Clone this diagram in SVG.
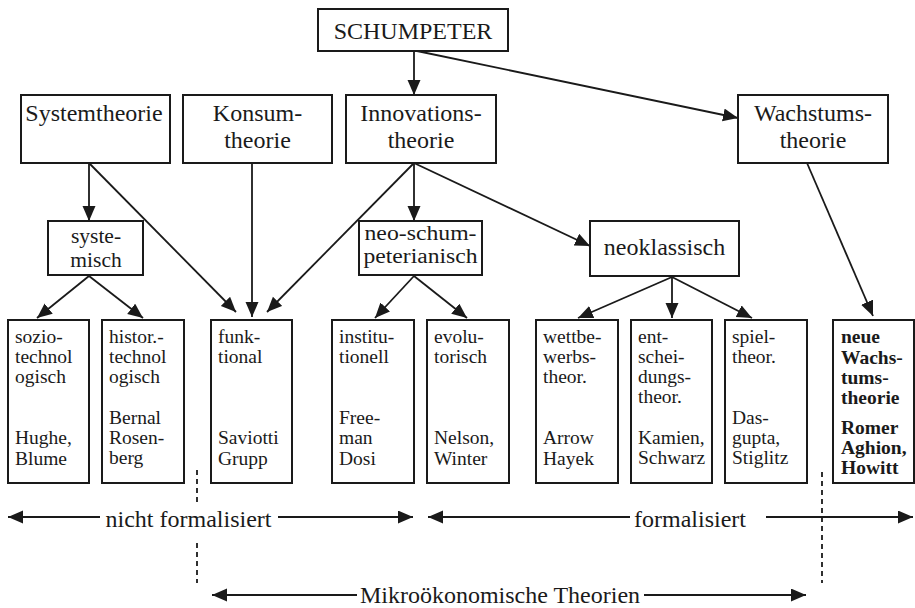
<svg xmlns="http://www.w3.org/2000/svg" width="915" height="608" viewBox="0 0 915 608">
<style>
.box{fill:#fff;stroke:#1a1a1a;stroke-width:2}
.t{font-family:"Liberation Serif","Times New Roman",serif;font-size:24px;fill:#1a1a1a;text-anchor:middle}
.m{font-size:21.5px}
.n{font-size:20.5px}
.s{font-family:"Liberation Serif","Times New Roman",serif;font-size:19.5px;fill:#1a1a1a}
.b{font-weight:bold}
.ln{stroke:#1a1a1a;stroke-width:1.8;fill:none}
.ar{marker-end:url(#ah)}
.dash{stroke:#1a1a1a;stroke-width:1.8;stroke-dasharray:5,4}
</style>
<defs>
<marker id="ah" markerUnits="userSpaceOnUse" markerWidth="16" markerHeight="14" refX="15" refY="6.5" orient="auto">
<path d="M0,0 L15,6.5 L0,13 z" fill="#1a1a1a"/>
</marker>
</defs>
<rect width="915" height="608" fill="#fff"/>
<g id="connectors">
<line class="ln ar" x1="414" y1="51" x2="414" y2="95"/>
<line class="ln ar" x1="417" y1="51" x2="738" y2="118"/>
<line class="ln ar" x1="89" y1="163" x2="89" y2="221"/>
<line class="ln ar" x1="89" y1="163" x2="236" y2="312"/>
<line class="ln ar" x1="252" y1="163" x2="252" y2="317"/>
<line class="ln ar" x1="414" y1="163" x2="267" y2="312"/>
<line class="ln ar" x1="414" y1="163" x2="414" y2="221"/>
<line class="ln ar" x1="414" y1="163" x2="590" y2="246"/>
<line class="ln ar" x1="807" y1="163" x2="873" y2="316"/>
<line class="ln ar" x1="89" y1="276" x2="37" y2="318"/>
<line class="ln ar" x1="89" y1="276" x2="143" y2="318"/>
<line class="ln ar" x1="414" y1="276" x2="375" y2="318"/>
<line class="ln ar" x1="414" y1="276" x2="467" y2="318"/>
<line class="ln ar" x1="672" y1="277" x2="578" y2="318"/>
<line class="ln ar" x1="672" y1="277" x2="672" y2="318"/>
<line class="ln ar" x1="672" y1="277" x2="752" y2="318"/>
</g>
<g id="schumpeter"><rect class="box" x="318" y="9" width="190" height="42"/><text class="t" x="413" y="39">SCHUMPETER</text></g>
<g id="systemtheorie"><rect class="box" x="21" y="95" width="149" height="68"/><text class="t" x="94" y="121">Systemtheorie</text></g>
<g id="konsumtheorie"><rect class="box" x="183" y="95" width="149" height="68"/><text class="t" x="257.5" y="121">Konsum-</text><text class="t" x="257.5" y="148">theorie</text></g>
<g id="innovationstheorie"><rect class="box" x="346" y="95" width="150" height="68"/><text class="t" x="421" y="121">Innovations-</text><text class="t" x="421" y="148">theorie</text></g>
<g id="wachstumstheorie"><rect class="box" x="738" y="95" width="150" height="68"/><text class="t" x="813" y="121">Wachstums-</text><text class="t" x="813" y="148">theorie</text></g>
<g id="systemisch"><rect class="box" x="48" y="221" width="95" height="54"/><text class="t m" x="96" y="243">syste-</text><text class="t m" x="96" y="267">misch</text></g>
<g id="neoschumpeterianisch"><rect class="box" x="359" y="221" width="123" height="54"/><text class="t n" x="420.5" y="240" textLength="112" lengthAdjust="spacingAndGlyphs">neo-schum-</text><text class="t n" x="420.5" y="263" textLength="114" lengthAdjust="spacingAndGlyphs">peterianisch</text></g>
<g id="neoklassisch"><rect class="box" x="590" y="221" width="149" height="55"/><text class="t" x="664.5" y="255">neoklassisch</text></g>
<g id="soziotechnologisch"><rect class="box" x="8" y="320" width="81" height="163"/>
<text class="s" x="15" y="343">sozio-</text><text class="s" x="15" y="363">technol</text><text class="s" x="15" y="383">ogisch</text>
<text class="s" x="15" y="444">Hughe,</text><text class="s" x="15" y="465">Blume</text></g>
<g id="historischtechnologisch"><rect class="box" x="102" y="320" width="82" height="163"/>
<text class="s" x="109" y="343">histor.-</text><text class="s" x="109" y="363">technol</text><text class="s" x="109" y="383">ogisch</text>
<text class="s" x="109" y="424">Bernal</text><text class="s" x="109" y="444">Rosen-</text><text class="s" x="109" y="464">berg</text></g>
<g id="funktional"><rect class="box" x="211" y="320" width="81" height="163"/>
<text class="s" x="218" y="343">funk-</text><text class="s" x="218" y="363">tional</text>
<text class="s" x="218" y="444">Saviotti</text><text class="s" x="218" y="465">Grupp</text></g>
<g id="institutionell"><rect class="box" x="332" y="320" width="82" height="163"/>
<text class="s" x="339" y="343">institu-</text><text class="s" x="339" y="363">tionell</text>
<text class="s" x="339" y="424">Free-</text><text class="s" x="339" y="444">man</text><text class="s" x="339" y="465">Dosi</text></g>
<g id="evolutorisch"><rect class="box" x="427" y="320" width="82" height="163"/>
<text class="s" x="434" y="343">evolu-</text><text class="s" x="434" y="363">torisch</text>
<text class="s" x="434" y="444">Nelson,</text><text class="s" x="434" y="465">Winter</text></g>
<g id="wettbewerbstheorie"><rect class="box" x="536" y="320" width="82" height="163"/>
<text class="s" x="543" y="343">wettbe-</text><text class="s" x="543" y="363">werbs-</text><text class="s" x="543" y="383">theor.</text>
<text class="s" x="543" y="444">Arrow</text><text class="s" x="543" y="465">Hayek</text></g>
<g id="entscheidungstheorie"><rect class="box" x="631" y="320" width="81" height="163"/>
<text class="s" x="638" y="343">ent-</text><text class="s" x="638" y="363">schei-</text><text class="s" x="638" y="383">dungs-</text><text class="s" x="638" y="403">theor.</text>
<text class="s" x="638" y="444">Kamien,</text><text class="s" x="638" y="464">Schwarz</text></g>
<g id="spieltheorie"><rect class="box" x="725" y="320" width="82" height="163"/>
<text class="s" x="732" y="343">spiel-</text><text class="s" x="732" y="363">theor.</text>
<text class="s" x="732" y="424">Das-</text><text class="s" x="732" y="444">gupta,</text><text class="s" x="732" y="464">Stiglitz</text></g>
<g id="neuewachstumstheorie"><rect class="box" x="833" y="320" width="81" height="163"/>
<text class="s b" x="841" y="343">neue</text><text class="s b" x="841" y="364">Wachs-</text><text class="s b" x="841" y="384">tums-</text><text class="s b" x="841" y="404">theorie</text>
<text class="s b" x="841" y="434">Romer</text><text class="s b" x="841" y="454">Aghion,</text><text class="s b" x="841" y="474">Howitt</text></g>
<g id="scales">
<line class="dash" x1="197" y1="470" x2="197" y2="502"/>
<line class="dash" x1="197" y1="543" x2="197" y2="583"/>
<line class="dash" x1="822" y1="472" x2="822" y2="583"/>
<line class="ln ar" x1="100" y1="517" x2="8" y2="517"/>
<line class="ln ar" x1="278" y1="517" x2="413" y2="517"/>
<text class="t" x="188.5" y="527">nicht formalisiert</text>
<line class="ln ar" x1="630" y1="517" x2="428" y2="517"/>
<line class="ln ar" x1="766" y1="517" x2="913" y2="517"/>
<text class="t" x="690" y="527">formalisiert</text>
<line class="ln ar" x1="357" y1="595" x2="212" y2="595"/>
<line class="ln ar" x1="644" y1="595" x2="806" y2="595"/>
<text class="t" x="500" y="603">Mikroökonomische Theorien</text>
</g>
</svg>
